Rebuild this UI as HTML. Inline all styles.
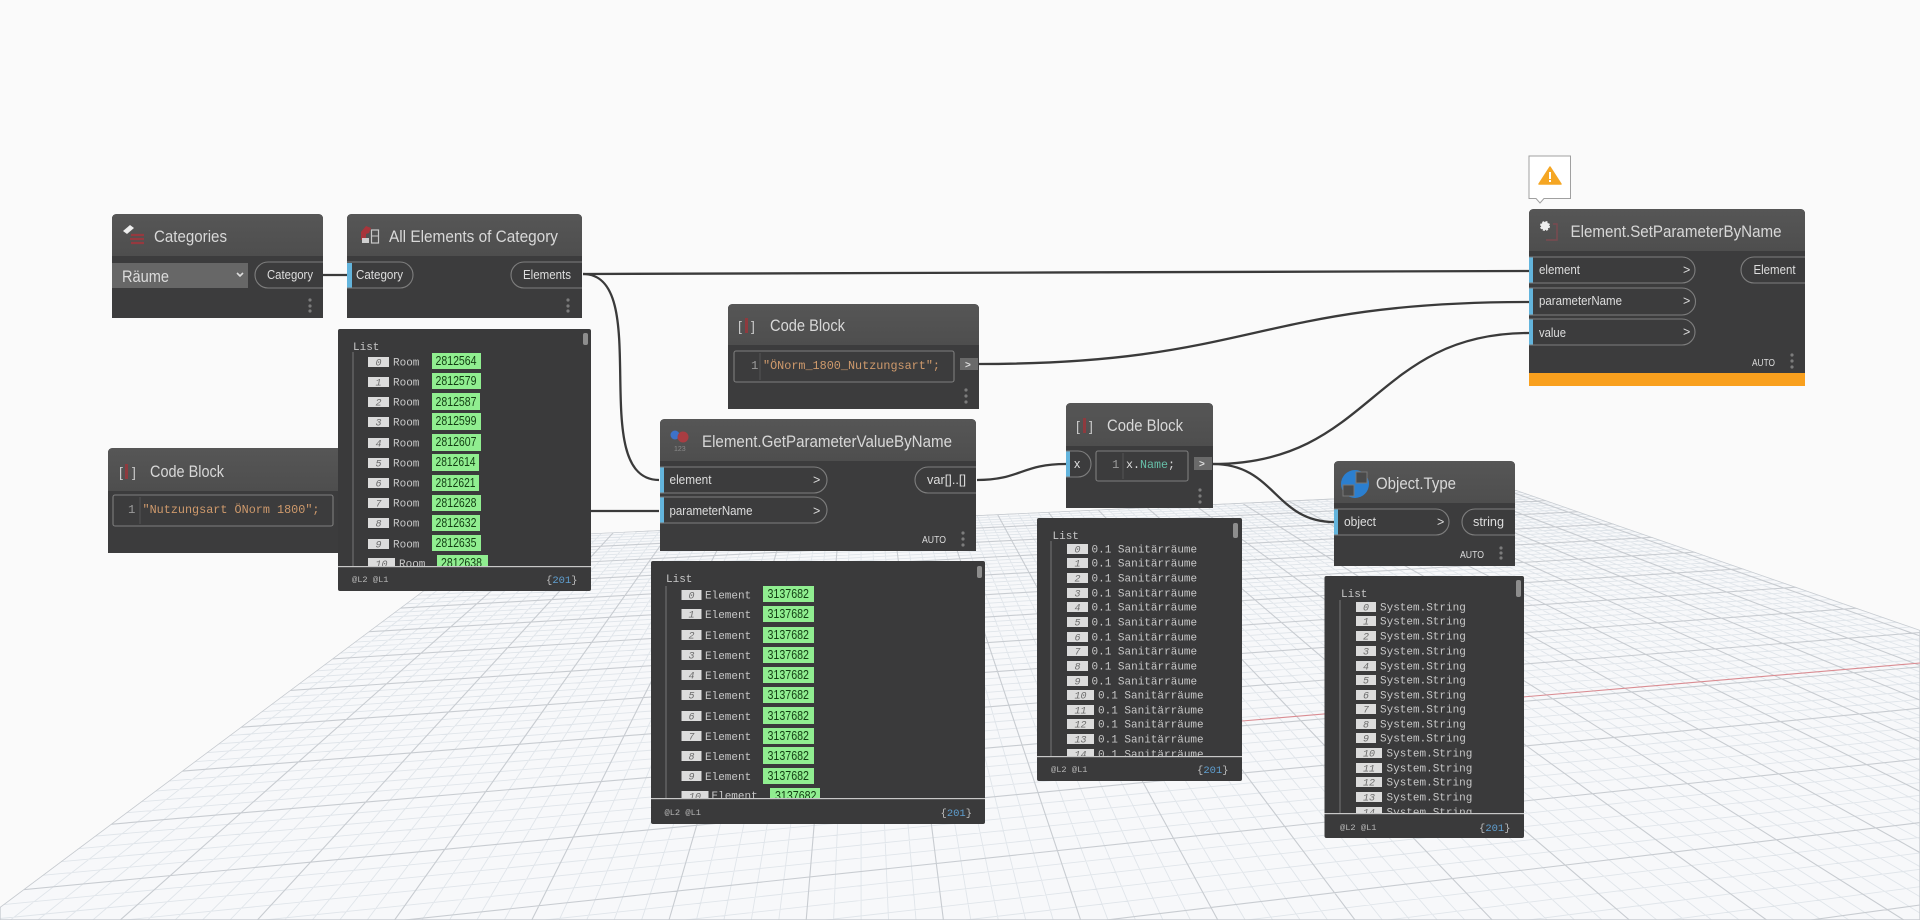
<!DOCTYPE html>
<html><head><meta charset="utf-8"><style>
html,body{margin:0;padding:0;background:#fafafa;width:1920px;height:920px;overflow:hidden}
svg{display:block;overflow:hidden}
text{font-family:"Liberation Sans",sans-serif;fill:#e2e2e2;white-space:pre}
.t{font-size:17px;fill:#d8d8d8}
.p{font-size:12.5px;fill:#dedede}
.c{font-family:"Liberation Mono",monospace;font-size:12.3px;fill:#cf9a6c}
.n{font-family:"Liberation Mono",monospace;font-size:12.3px;fill:#9a9a9a}
.m{font-family:"Liberation Mono",monospace;font-size:11px;fill:#c8c8c8}
.i{font-family:"Liberation Mono",monospace;font-size:10px;font-style:italic;fill:#6c6c6c;text-anchor:middle}
.g{font-size:13px;fill:#123d12}
.f{font-family:"Liberation Mono",monospace;font-size:8.7px;fill:#b5b5b5}
.b{font-family:"Liberation Mono",monospace;font-size:10.5px;fill:#bdbdbd}
.b tspan{fill:#5f9fd0}
.a{font-size:10.5px;fill:#dcdcdc}
.w{fill:none;stroke:#3a3a3a;stroke-width:2.3}
.o{fill:none;stroke:#7e7e7e;stroke-width:1.1}
.x{fill:#dcdcdc}.h{fill:#90ee90}
.bl{fill:#63b4dc}
.d{fill:#7c7c7c}
.bd{fill:#3c3c3d}.hd{fill:url(#hg)}.wa{fill:#3a3a3b}
</style></head><body>
<svg xmlns="http://www.w3.org/2000/svg" width="1920" height="920" viewBox="0 0 1920 920">
<defs>
<linearGradient id="hg" x1="0" y1="0" x2="0" y2="1"><stop offset="0" stop-color="#565656"/><stop offset="1" stop-color="#4e4e4e"/></linearGradient>
<clipPath id="plane"><polygon points="494,538 1516,490 1920,630 1920,920 0,920 0,907"/></clipPath>
<clipPath id="c1"><rect x="338" y="329" width="253" height="237"/></clipPath>
<clipPath id="c2"><rect x="651" y="561" width="334" height="237"/></clipPath>
<clipPath id="c3"><rect x="1037" y="518" width="205" height="238"/></clipPath>
<clipPath id="c4"><rect x="1324" y="576" width="200" height="237"/></clipPath>
</defs>
<rect width="1920" height="920" fill="#fafafa"/>
<g clip-path="url(#plane)">
<polygon points="494,538 1516,490 1920,630 1920,920 0,920 0,907" fill="#f7f8fa"/>
<path id="gmin" fill="none" stroke="#e0e5ea" stroke-width="0.9"/>
<path id="gmaj" fill="none" stroke="#c8ccd1" stroke-width="1.1"/>
<polygon points="494,538 1516,490 1920,630 1920,920 0,920 0,907" fill="none" stroke="#c8ccd1" stroke-width="1.4"/>
<line x1="1242" y1="721" x2="1920" y2="663" stroke="#d98c92" stroke-width="1.1"/>
</g>
<script>
(function(){var mi='',ma='',k;var VA=[6690,252],VB=[861,263];
function add(s,maj){if(maj)ma+=s;else mi+=s;}
for(k=-16;k<=55;k++){var v=.001669+k*.000034,Y=264+1/v;
function yy(x){return VA[1]+(Y-VA[1])*(VA[0]-x)/(VA[0]-300);}
var x0=0,y0=yy(0),x1=1920,y1=yy(1920);
if(y1>920)continue;
if(y0>920){x0=VA[0]-(920-VA[1])*(VA[0]-300)/(Y-VA[1]);y0=920;}
add('M'+x0.toFixed(1)+' '+y0.toFixed(1)+'L'+x1+' '+y1.toFixed(1),k%5==0);}
for(k=0;k<=101;k++){var X=-17+k*137.2/5;var ex=X,ey=920;
if(X>1920){ex=1920;ey=VB[1]+(920-VB[1])*(1920-VB[0])/(X-VB[0]);}
if(X<0){ex=0;ey=VB[1]+(920-VB[1])*(0-VB[0])/(X-VB[0]);}
add('M'+VB[0]+' '+VB[1]+'L'+ex.toFixed(1)+' '+ey.toFixed(1),k%5==0);}
document.getElementById('gmin').setAttribute('d',mi);document.getElementById('gmaj').setAttribute('d',ma);})();
</script>

<!-- wires -->
<path class="w" d="M323 275H347"/>
<path class="w" d="M583 274C800 274 1300 271 1529 271"/>
<path class="w" d="M583 274C655 274 585 480 659 480"/>
<path class="w" d="M591 511H659"/>
<path class="w" d="M979 364C1254 364 1254 302 1529 302"/>
<path class="w" d="M977 480C1020 480 1022 464 1066 464"/>
<path class="w" d="M1213 464C1372 464 1372 333 1529 333"/>
<path class="w" d="M1213 464C1275 464 1275 522 1334 522"/>

<!-- Categories -->
<path class="bd" d="M112 219q0-5 5-5H318q5 0 5 5V318H112Z"/>
<path class="hd" d="M112 219q0-5 5-5H318q5 0 5 5V256H112Z"/>
<rect x="112" y="263" width="136" height="25" fill="#676767"/>
<text x="122" y="282" style="font-size:17px;fill:#dcdcdc" textLength="47" lengthAdjust="spacingAndGlyphs">Räume</text>
<path d="M237 273l3 3 3-3" fill="none" stroke="#ddd" stroke-width="1.6"/>
<path class="o" d="M323 262H268a13 13 0 0 0 0 26H323"/>
<text class="p" x="267" y="279" textLength="46" lengthAdjust="spacingAndGlyphs">Category</text>
<circle class="d" cx="310" cy="300" r="1.6"/><circle class="d" cx="310" cy="306" r="1.6"/><circle class="d" cx="310" cy="311" r="1.6"/>
<path d="M123 231l7-6 4 3-7 6z" fill="#eee"/>
<path d="M131 235h13M130 239h14M131 243h13" stroke="#96393f" stroke-width="2.2" fill="none"/>
<text class="t" x="154" y="242" textLength="73" lengthAdjust="spacingAndGlyphs">Categories</text>

<!-- All Elements -->
<path class="bd" d="M347 219q0-5 5-5H577q5 0 5 5V318H347Z"/>
<path class="hd" d="M347 219q0-5 5-5H577q5 0 5 5V256H347Z"/>
<rect class="bl" x="347" y="263" width="5" height="25"/>
<path class="o" d="M347 262H400a13 13 0 0 1 0 26H347"/>
<text class="p" x="356" y="279" textLength="47" lengthAdjust="spacingAndGlyphs">Category</text>
<path class="o" d="M582 262H524a13 13 0 0 0 0 26H582"/>
<text class="p" x="523" y="279" textLength="48" lengthAdjust="spacingAndGlyphs">Elements</text>
<circle class="d" cx="568" cy="300" r="1.6"/><circle class="d" cx="568" cy="306" r="1.6"/><circle class="d" cx="568" cy="311" r="1.6"/>
<path d="M361 232l5-6 5 2-2 5-3 1v6h-5z" fill="#a8353b"/>
<rect x="362" y="238" width="7" height="5" fill="#cfcfcf"/>
<rect x="371.500" y="230" width="7" height="13" fill="none" stroke="#c8c8c8" stroke-width="1.2"/>
<line x1="371" y1="236" x2="378" y2="236" stroke="#c8c8c8"/>
<text class="t" x="389" y="242" textLength="169" lengthAdjust="spacingAndGlyphs">All Elements of Category</text>

<!-- Code Block left -->
<path class="bd" d="M108 453q0-5 5-5H338V553H108Z"/>
<path class="hd" d="M108 453q0-5 5-5H338V491H108Z"/>
<text x="119" y="477" style="font-size:14px;fill:#c8c8c8">[</text><text x="132" y="477" style="font-size:14px;fill:#c8c8c8">]</text>
<rect x="125" y="464" width="3" height="15" fill="#8e3a3e"/>
<text class="t" x="150" y="477" textLength="74" lengthAdjust="spacingAndGlyphs">Code Block</text>
<rect class="o" x="113" y="495" width="220" height="31" rx="2"/>
<text class="n" x="128" y="513">1</text><line x1="140" y1="497" x2="140" y2="524" stroke="#555"/>
<text class="c" x="142.500" y="513" textLength="177" lengthAdjust="spacingAndGlyphs">"Nutzungsart ÖNorm 1800";</text>

<!-- Code Block mid -->
<path class="bd" d="M728 309q0-5 5-5H974q5 0 5 5V409H728Z"/>
<path class="hd" d="M728 309q0-5 5-5H974q5 0 5 5V345H728Z"/>
<text x="738" y="331" style="font-size:14px;fill:#c8c8c8">[</text><text x="751" y="331" style="font-size:14px;fill:#c8c8c8">]</text>
<rect x="745" y="318" width="3" height="15" fill="#8e3a3e"/>
<text class="t" x="770" y="331" textLength="75" lengthAdjust="spacingAndGlyphs">Code Block</text>
<rect class="o" x="734" y="351" width="220" height="31" rx="2"/>
<text class="n" x="751" y="369">1</text><line x1="760" y1="353" x2="760" y2="380" stroke="#555"/>
<text class="c" x="763" y="369" textLength="177" lengthAdjust="spacingAndGlyphs">"ÖNorm_1800_Nutzungsart";</text>
<rect x="960" y="358" width="18" height="12" fill="#6a6a6a"/>
<text x="965" y="368" style="font-size:10px;font-weight:bold;fill:#ddd">&gt;</text>
<circle class="d" cx="966" cy="390" r="1.6"/><circle class="d" cx="966" cy="396" r="1.6"/><circle class="d" cx="966" cy="402" r="1.6"/>

<!-- GetParameterValueByName -->
<path class="bd" d="M660 424q0-5 5-5H971q5 0 5 5V551H660Z"/>
<path class="hd" d="M660 424q0-5 5-5H971q5 0 5 5V461H660Z"/>
<circle cx="675" cy="435" r="4.500" fill="#3d72c9"/><circle cx="683" cy="437" r="5.500" fill="#a93d42"/>
<text x="674" y="451" style="font-size:7px;fill:#8a8a8a">123</text>
<text class="t" x="702" y="447" textLength="250" lengthAdjust="spacingAndGlyphs">Element.GetParameterValueByName</text>
<rect class="bl" x="660" y="467" width="4" height="26"/><rect class="bl" x="660" y="497" width="4" height="26"/>
<path class="o" d="M660 467H814a13 13 0 0 1 0 26H660"/>
<path class="o" d="M660 497H814a13 13 0 0 1 0 26H660"/>
<text class="p" x="669.500" y="484" textLength="42" lengthAdjust="spacingAndGlyphs">element</text>
<text class="p" x="669.500" y="515" textLength="83" lengthAdjust="spacingAndGlyphs">parameterName</text>
<text class="p" x="813" y="484">&gt;</text><text class="p" x="813" y="515">&gt;</text>
<path class="o" d="M976 467H928a13 13 0 0 0 0 26H976"/>
<text class="p" x="927" y="484" textLength="39" lengthAdjust="spacingAndGlyphs">var[]..[]</text>
<text class="a" x="922" y="543" textLength="24" lengthAdjust="spacingAndGlyphs">AUTO</text>
<circle class="d" cx="963" cy="533" r="1.6"/><circle class="d" cx="963" cy="539" r="1.6"/><circle class="d" cx="963" cy="545" r="1.6"/>

<!-- Code Block x -->
<path class="bd" d="M1066 408q0-5 5-5H1208q5 0 5 5V508H1066Z"/>
<path class="hd" d="M1066 408q0-5 5-5H1208q5 0 5 5V446H1066Z"/>
<text x="1076" y="431" style="font-size:14px;fill:#c8c8c8">[</text><text x="1089" y="431" style="font-size:14px;fill:#c8c8c8">]</text>
<rect x="1083" y="418" width="3" height="15" fill="#8e3a3e"/>
<text class="t" x="1107" y="431" textLength="76" lengthAdjust="spacingAndGlyphs">Code Block</text>
<rect class="bl" x="1066" y="451" width="4" height="26"/>
<path class="o" d="M1066 451H1078a13 13 0 0 1 0 26H1066"/>
<text class="p" x="1074" y="468">x</text>
<rect class="o" x="1096" y="451" width="92" height="30" rx="2"/>
<text class="n" x="1112" y="468">1</text><line x1="1123" y1="453" x2="1123" y2="479" stroke="#555"/>
<text class="c" x="1126" y="468" style="fill:#dcdcdc" textLength="49" lengthAdjust="spacingAndGlyphs">x.<tspan fill="#66bfa8">Name</tspan>;</text>
<rect x="1194" y="457" width="18" height="13" fill="#6a6a6a"/>
<text x="1199" y="467" style="font-size:10px;font-weight:bold;fill:#ddd">&gt;</text>
<circle class="d" cx="1200" cy="490" r="1.6"/><circle class="d" cx="1200" cy="496" r="1.6"/><circle class="d" cx="1200" cy="502" r="1.6"/>

<!-- Object.Type -->
<path class="bd" d="M1334 466q0-5 5-5H1510q5 0 5 5V566H1334Z"/>
<path class="hd" d="M1334 466q0-5 5-5H1510q5 0 5 5V503H1334Z"/>
<circle cx="1355" cy="484" r="14" fill="#2b7fd0"/>
<rect x="1343" y="485" width="11" height="11" fill="#4a4a4a" stroke="#777"/><rect x="1356" y="472" width="11" height="11" fill="#4a4a4a" stroke="#777"/>
<text class="t" x="1376" y="489" textLength="80" lengthAdjust="spacingAndGlyphs">Object.Type</text>
<rect class="bl" x="1334" y="509" width="4" height="26"/>
<path class="o" d="M1334 509H1436a13 13 0 0 1 0 26H1334"/>
<text class="p" x="1344" y="526" textLength="32" lengthAdjust="spacingAndGlyphs">object</text>
<text class="p" x="1437" y="526">&gt;</text>
<path class="o" d="M1515 509H1475a13 13 0 0 0 0 26H1515"/>
<text class="p" x="1473" y="526" textLength="31" lengthAdjust="spacingAndGlyphs">string</text>
<text class="a" x="1460" y="558" textLength="24" lengthAdjust="spacingAndGlyphs">AUTO</text>
<circle class="d" cx="1501" cy="548" r="1.6"/><circle class="d" cx="1501" cy="553" r="1.6"/><circle class="d" cx="1501" cy="558" r="1.6"/>

<!-- SetParameterByName -->
<path d="M1529 156H1570.500V198.500H1544L1540 203 1536 198.500H1529Z" fill="#fff" stroke="#a0a0a0" stroke-width="1"/>
<path d="M1550 167L1561 184H1539Z" fill="#f5a623" stroke="#f5a623" stroke-width="1.500" stroke-linejoin="round"/>
<rect x="1549" y="172" width="2" height="7" fill="#fff"/><rect x="1549" y="180" width="2" height="2" fill="#fff"/>
<path class="bd" d="M1529 214q0-5 5-5H1800q5 0 5 5V374H1529Z"/>
<path class="hd" d="M1529 214q0-5 5-5H1800q5 0 5 5V251H1529Z"/>
<rect x="1529" y="373" width="276" height="13" fill="#f9a01e"/>
<circle cx="1545" cy="226" r="4" fill="#eee" stroke="#eee" stroke-width="2" stroke-dasharray="2 1.200"/>
<path d="M1553 224h4v16h-11" fill="none" stroke="#7b4a50" stroke-width="1.500"/>
<text class="t" x="1570.500" y="237" textLength="211" lengthAdjust="spacingAndGlyphs">Element.SetParameterByName</text>
<rect class="bl" x="1529" y="257" width="4" height="26"/><rect class="bl" x="1529" y="288" width="4" height="27"/><rect class="bl" x="1529" y="319" width="4" height="26"/>
<path class="o" d="M1529 257H1682a13 13 0 0 1 0 26H1529"/>
<path class="o" d="M1529 288H1682a13 13 0 0 1 0 27H1529"/>
<path class="o" d="M1529 319H1682a13 13 0 0 1 0 26H1529"/>
<text class="p" x="1539" y="274" textLength="41" lengthAdjust="spacingAndGlyphs">element</text>
<text class="p" x="1539" y="305" textLength="83" lengthAdjust="spacingAndGlyphs">parameterName</text>
<text class="p" x="1539" y="337" textLength="27" lengthAdjust="spacingAndGlyphs">value</text>
<text class="p" x="1683" y="274">&gt;</text><text class="p" x="1683" y="305">&gt;</text><text class="p" x="1683" y="336">&gt;</text>
<path class="o" d="M1805 257H1754a13 13 0 0 0 0 26H1805"/>
<text class="p" x="1753.500" y="274" textLength="42" lengthAdjust="spacingAndGlyphs">Element</text>
<text class="a" x="1752" y="366" textLength="23" lengthAdjust="spacingAndGlyphs">AUTO</text>
<circle class="d" cx="1792" cy="355" r="1.6"/><circle class="d" cx="1792" cy="361" r="1.6"/><circle class="d" cx="1792" cy="367" r="1.6"/>

<!-- Watch 1 -->
<rect class="wa" x="338" y="329" width="253" height="262" rx="2"/>
<text class="m" x="353" y="350">List</text>
<line x1="353" y1="352" x2="353" y2="566" stroke="#777"/>
<rect x="583" y="333" width="5" height="12" rx="2" fill="#8d8d8d"/>
<g clip-path="url(#c1)">
<rect class="x" x="368" y="357" width="21" height="10"/><text class="i" x="378.500" y="365.500">0</text><text class="m" x="393" y="365.500">Room</text><rect class="h" x="432" y="353" width="49" height="16"/><text class="g" x="435.500" y="365" textLength="41" lengthAdjust="spacingAndGlyphs">2812564</text>
<rect class="x" x="368" y="377" width="21" height="10"/><text class="i" x="378.500" y="385.500">1</text><text class="m" x="393" y="385.500">Room</text><rect class="h" x="432" y="373" width="49" height="16"/><text class="g" x="435.500" y="385" textLength="41" lengthAdjust="spacingAndGlyphs">2812579</text>
<rect class="x" x="368" y="397" width="21" height="10"/><text class="i" x="378.500" y="405.500">2</text><text class="m" x="393" y="405.500">Room</text><rect class="h" x="432" y="393" width="48" height="17"/><text class="g" x="435.500" y="406" textLength="41" lengthAdjust="spacingAndGlyphs">2812587</text>
<rect class="x" x="368" y="417" width="21" height="10"/><text class="i" x="378.500" y="425.500">3</text><text class="m" x="393" y="425.500">Room</text><rect class="h" x="432" y="413" width="49" height="17"/><text class="g" x="435.500" y="425" textLength="41" lengthAdjust="spacingAndGlyphs">2812599</text>
<rect class="x" x="368" y="438" width="21" height="10"/><text class="i" x="378.500" y="446.500">4</text><text class="m" x="393" y="446.500">Room</text><rect class="h" x="432" y="434" width="49" height="17"/><text class="g" x="435.500" y="446" textLength="41" lengthAdjust="spacingAndGlyphs">2812607</text>
<rect class="x" x="368" y="458" width="21" height="10"/><text class="i" x="378.500" y="466.500">5</text><text class="m" x="393" y="466.500">Room</text><rect class="h" x="432" y="454" width="47" height="17"/><text class="g" x="435.500" y="466" textLength="40" lengthAdjust="spacingAndGlyphs">2812614</text>
<rect class="x" x="368" y="478" width="21" height="10"/><text class="i" x="378.500" y="486.500">6</text><text class="m" x="393" y="486.500">Room</text><rect class="h" x="432" y="475" width="47" height="16"/><text class="g" x="435.500" y="487" textLength="40" lengthAdjust="spacingAndGlyphs">2812621</text>
<rect class="x" x="368" y="498" width="21" height="10"/><text class="i" x="378.500" y="506.500">7</text><text class="m" x="393" y="506.500">Room</text><rect class="h" x="432" y="495" width="49" height="16"/><text class="g" x="435.500" y="507" textLength="41" lengthAdjust="spacingAndGlyphs">2812628</text>
<rect class="x" x="368" y="518" width="21" height="10"/><text class="i" x="378.500" y="526.500">8</text><text class="m" x="393" y="526.500">Room</text><rect class="h" x="432" y="515" width="48" height="16"/><text class="g" x="435.500" y="527" textLength="41" lengthAdjust="spacingAndGlyphs">2812632</text>
<rect class="x" x="368" y="539" width="21" height="10"/><text class="i" x="378.500" y="547.500">9</text><text class="m" x="393" y="547.500">Room</text><rect class="h" x="432" y="535" width="49" height="16"/><text class="g" x="435.500" y="547" textLength="41" lengthAdjust="spacingAndGlyphs">2812635</text>
<rect class="x" x="368" y="558" width="27" height="10"/><text class="i" x="381.500" y="567">10</text><text class="m" x="399" y="567">Room</text><rect class="h" x="437" y="555" width="51" height="16"/><text class="g" x="441" y="567" textLength="41" lengthAdjust="spacingAndGlyphs">2812638</text>
</g>
<rect x="338" y="566" width="253" height="1.200" fill="#c8c8c8"/>
<text class="f" x="352" y="582">@L2 @L1</text>
<text class="b" x="546" y="583">{<tspan>201</tspan>}</text>

<!-- Watch 2 -->
<rect class="wa" x="651" y="561" width="334" height="263" rx="2"/>
<text class="m" x="666" y="582">List</text>
<line x1="666" y1="586" x2="666" y2="798" stroke="#777"/>
<rect x="977" y="566" width="5" height="12" rx="2" fill="#8d8d8d"/>
<g clip-path="url(#c2)">
<rect class="x" x="681.500" y="590" width="20" height="10"/><text class="i" x="691.500" y="598.500">0</text><text class="m" x="705" y="598.500">Element</text><rect class="h" x="763" y="586" width="51" height="16"/><text class="g" x="767.500" y="598" textLength="41.500" lengthAdjust="spacingAndGlyphs">3137682</text>
<rect class="x" x="681.500" y="609" width="20" height="10"/><text class="i" x="691.500" y="617.500">1</text><text class="m" x="705" y="618">Element</text><rect class="h" x="763" y="606" width="51" height="16"/><text class="g" x="767.500" y="618" textLength="41.500" lengthAdjust="spacingAndGlyphs">3137682</text>
<rect class="x" x="681.500" y="630" width="20" height="10"/><text class="i" x="691.500" y="638.500">2</text><text class="m" x="705" y="639">Element</text><rect class="h" x="763" y="627" width="51" height="16"/><text class="g" x="767.500" y="639" textLength="41.500" lengthAdjust="spacingAndGlyphs">3137682</text>
<rect class="x" x="681.500" y="650" width="20" height="10"/><text class="i" x="691.500" y="658.500">3</text><text class="m" x="705" y="659">Element</text><rect class="h" x="763" y="647" width="51" height="16"/><text class="g" x="767.500" y="659" textLength="41.500" lengthAdjust="spacingAndGlyphs">3137682</text>
<rect class="x" x="681.500" y="670" width="20" height="10"/><text class="i" x="691.500" y="678.500">4</text><text class="m" x="705" y="679">Element</text><rect class="h" x="763" y="667" width="51" height="16"/><text class="g" x="767.500" y="679" textLength="41.500" lengthAdjust="spacingAndGlyphs">3137682</text>
<rect class="x" x="681.500" y="690" width="20" height="10"/><text class="i" x="691.500" y="698.500">5</text><text class="m" x="705" y="699">Element</text><rect class="h" x="763" y="687" width="51" height="16"/><text class="g" x="767.500" y="699" textLength="41.500" lengthAdjust="spacingAndGlyphs">3137682</text>
<rect class="x" x="681.500" y="711" width="20" height="10"/><text class="i" x="691.500" y="719.500">6</text><text class="m" x="705" y="720">Element</text><rect class="h" x="763" y="707" width="51" height="17"/><text class="g" x="767.500" y="720" textLength="41.500" lengthAdjust="spacingAndGlyphs">3137682</text>
<rect class="x" x="681.500" y="731" width="20" height="10"/><text class="i" x="691.500" y="739.500">7</text><text class="m" x="705" y="740">Element</text><rect class="h" x="763" y="728" width="51" height="16"/><text class="g" x="767.500" y="740" textLength="41.500" lengthAdjust="spacingAndGlyphs">3137682</text>
<rect class="x" x="681.500" y="751" width="20" height="10"/><text class="i" x="691.500" y="759.500">8</text><text class="m" x="705" y="760">Element</text><rect class="h" x="763" y="747" width="51" height="17"/><text class="g" x="767.500" y="760" textLength="41.500" lengthAdjust="spacingAndGlyphs">3137682</text>
<rect class="x" x="681.500" y="771" width="20" height="10"/><text class="i" x="691.500" y="779.500">9</text><text class="m" x="705" y="780">Element</text><rect class="h" x="763" y="768" width="51" height="16"/><text class="g" x="767.500" y="780" textLength="41.500" lengthAdjust="spacingAndGlyphs">3137682</text>
<rect class="x" x="681.500" y="791" width="27" height="10"/><text class="i" x="695" y="799.500">10</text><text class="m" x="711.500" y="799">Element</text><rect class="h" x="770" y="788" width="50" height="16"/><text class="g" x="775" y="800" textLength="41.500" lengthAdjust="spacingAndGlyphs">3137682</text>
</g>
<rect x="651" y="798" width="334" height="1.200" fill="#c8c8c8"/>
<text class="f" x="664.500" y="815">@L2 @L1</text>
<text class="b" x="940.500" y="816">{<tspan>201</tspan>}</text>

<!-- Watch 3 -->
<rect class="wa" x="1037" y="518" width="205" height="263" rx="2"/>
<text class="m" x="1052.500" y="539">List</text>
<line x1="1051" y1="541" x2="1051" y2="756" stroke="#777"/>
<rect x="1233" y="523" width="5" height="15" rx="2" fill="#8d8d8d"/>
<g clip-path="url(#c3)">
<rect class="x" x="1067" y="544" width="21" height="10"/><text class="i" x="1077.500" y="552.500">0</text><text class="m" x="1091.500" y="552.500">0.1 Sanitärräume</text>
<rect class="x" x="1067" y="558" width="21" height="10"/><text class="i" x="1077.500" y="566.500">1</text><text class="m" x="1091.500" y="566.500">0.1 Sanitärräume</text>
<rect class="x" x="1067" y="573" width="21" height="10"/><text class="i" x="1077.500" y="581.500">2</text><text class="m" x="1091.500" y="581.500">0.1 Sanitärräume</text>
<rect class="x" x="1067" y="588" width="21" height="10"/><text class="i" x="1077.500" y="596.500">3</text><text class="m" x="1091.500" y="596.500">0.1 Sanitärräume</text>
<rect class="x" x="1067" y="602" width="21" height="10"/><text class="i" x="1077.500" y="610.500">4</text><text class="m" x="1091.500" y="610.500">0.1 Sanitärräume</text>
<rect class="x" x="1067" y="617" width="21" height="10"/><text class="i" x="1077.500" y="625.500">5</text><text class="m" x="1091.500" y="625.500">0.1 Sanitärräume</text>
<rect class="x" x="1067" y="632" width="21" height="10"/><text class="i" x="1077.500" y="640.500">6</text><text class="m" x="1091.500" y="640.500">0.1 Sanitärräume</text>
<rect class="x" x="1067" y="646" width="21" height="10"/><text class="i" x="1077.500" y="654.500">7</text><text class="m" x="1091.500" y="654.500">0.1 Sanitärräume</text>
<rect class="x" x="1067" y="661" width="21" height="10"/><text class="i" x="1077.500" y="669.500">8</text><text class="m" x="1091.500" y="669.500">0.1 Sanitärräume</text>
<rect class="x" x="1067" y="676" width="21" height="10"/><text class="i" x="1077.500" y="684.500">9</text><text class="m" x="1091.500" y="684.500">0.1 Sanitärräume</text>
<rect class="x" x="1067" y="690" width="27" height="10"/><text class="i" x="1080.500" y="698.500">10</text><text class="m" x="1098" y="698.500">0.1 Sanitärräume</text>
<rect class="x" x="1067" y="705" width="27" height="10"/><text class="i" x="1080.500" y="713.500">11</text><text class="m" x="1098" y="713.500">0.1 Sanitärräume</text>
<rect class="x" x="1067" y="719" width="27" height="10"/><text class="i" x="1080.500" y="727.500">12</text><text class="m" x="1098" y="727.500">0.1 Sanitärräume</text>
<rect class="x" x="1067" y="734" width="27" height="10"/><text class="i" x="1080.500" y="742.500">13</text><text class="m" x="1098" y="742.500">0.1 Sanitärräume</text>
<rect class="x" x="1067" y="749" width="27" height="10"/><text class="i" x="1080.500" y="757.500">14</text><text class="m" x="1098" y="757.500">0.1 Sanitärräume</text>
</g>
<rect x="1037" y="756" width="205" height="1.200" fill="#c8c8c8"/>
<text class="f" x="1051" y="772">@L2 @L1</text>
<text class="b" x="1197" y="773">{<tspan>201</tspan>}</text>

<!-- Watch 4 -->
<rect class="wa" x="1324.500" y="576" width="199.500" height="262" rx="2"/>
<text class="m" x="1341" y="597">List</text>
<line x1="1340" y1="600" x2="1340" y2="813" stroke="#777"/>
<rect x="1516" y="580" width="5" height="17" rx="2" fill="#8d8d8d"/>
<g clip-path="url(#c4)">
<rect class="x" x="1356" y="602" width="20" height="10"/><text class="i" x="1366" y="610.500">0</text><text class="m" x="1380" y="610.500">System.String</text>
<rect class="x" x="1356" y="616" width="20" height="10"/><text class="i" x="1366" y="624.500">1</text><text class="m" x="1380" y="624.500">System.String</text>
<rect class="x" x="1356" y="631" width="20" height="10"/><text class="i" x="1366" y="639.500">2</text><text class="m" x="1380" y="639.500">System.String</text>
<rect class="x" x="1356" y="646" width="20" height="10"/><text class="i" x="1366" y="654.500">3</text><text class="m" x="1380" y="654.500">System.String</text>
<rect class="x" x="1356" y="661" width="20" height="10"/><text class="i" x="1366" y="669.500">4</text><text class="m" x="1380" y="669.500">System.String</text>
<rect class="x" x="1356" y="675" width="20" height="10"/><text class="i" x="1366" y="683.500">5</text><text class="m" x="1380" y="683.500">System.String</text>
<rect class="x" x="1356" y="690" width="20" height="10"/><text class="i" x="1366" y="698.500">6</text><text class="m" x="1380" y="698.500">System.String</text>
<rect class="x" x="1356" y="704" width="20" height="10"/><text class="i" x="1366" y="712.500">7</text><text class="m" x="1380" y="712.500">System.String</text>
<rect class="x" x="1356" y="719" width="20" height="10"/><text class="i" x="1366" y="727.500">8</text><text class="m" x="1380" y="727.500">System.String</text>
<rect class="x" x="1356" y="733" width="20" height="10"/><text class="i" x="1366" y="741.500">9</text><text class="m" x="1380" y="741.500">System.String</text>
<rect class="x" x="1356" y="748" width="26" height="10"/><text class="i" x="1369" y="756.500">10</text><text class="m" x="1386.500" y="756.500">System.String</text>
<rect class="x" x="1356" y="763" width="26" height="10"/><text class="i" x="1369" y="771.500">11</text><text class="m" x="1386.500" y="771.500">System.String</text>
<rect class="x" x="1356" y="777" width="26" height="10"/><text class="i" x="1369" y="785.500">12</text><text class="m" x="1386.500" y="785.500">System.String</text>
<rect class="x" x="1356" y="792" width="26" height="10"/><text class="i" x="1369" y="800.500">13</text><text class="m" x="1386.500" y="800.500">System.String</text>
<rect class="x" x="1356" y="807" width="26" height="10"/><text class="i" x="1369" y="815.500">14</text><text class="m" x="1386.500" y="815.500">System.String</text>
</g>
<rect x="1324.500" y="813" width="199.500" height="1.200" fill="#c8c8c8"/>
<text class="f" x="1340" y="830">@L2 @L1</text>
<text class="b" x="1479" y="831">{<tspan>201</tspan>}</text>
</svg>
</body></html>
